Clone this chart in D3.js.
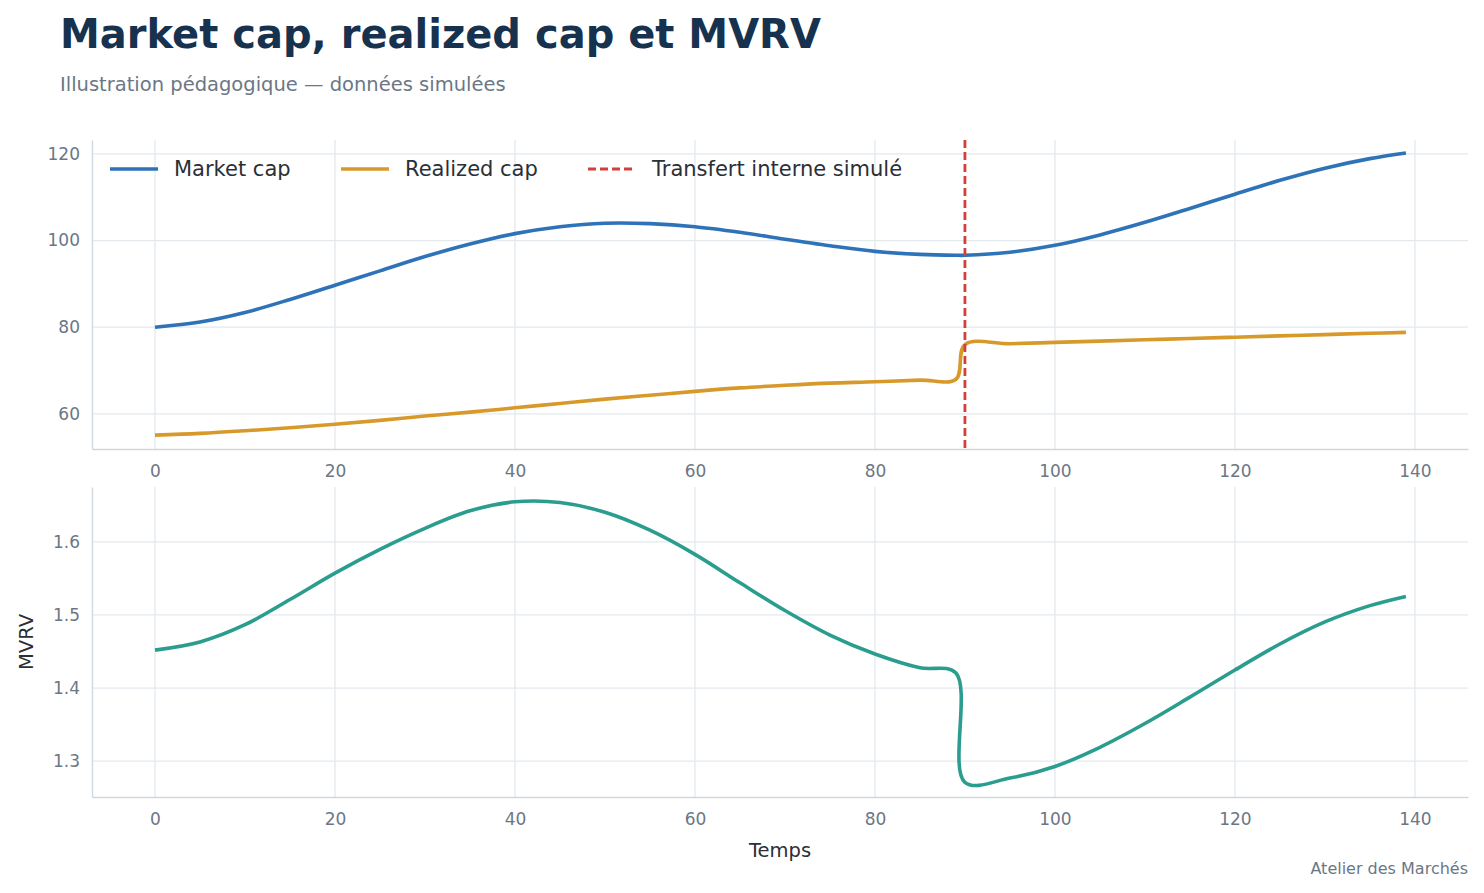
<!DOCTYPE html>
<html><head><meta charset="utf-8">
<script src="https://cdn.jsdelivr.net/npm/d3@7"></script>
<style>
body{margin:0;background:#fff;font-family:"DejaVu Sans",sans-serif;}
.tick text{fill:#6b7785;font-size:17px;font-family:"DejaVu Sans",sans-serif;}
</style></head>
<body><div id="chart"></div>
<script>
// sampled time steps
const steps = [0,5,10,15,20,25,30,35,40,45,50,55,60,65,70,75,80,85,89,90,95,100,105,110,115,120,125,130,135,139];
const marketCap = [80,81.2,83.4,86.4,89.7,93,96.3,99.2,101.6,103.2,104,103.9,103.2,101.9,100.3,98.8,97.5,96.8,96.6,96.6,97.3,98.9,101.3,104.2,107.4,110.7,113.9,116.7,118.9,120.2];
const realizedCap = [55.1,55.5,56.1,56.8,57.6,58.5,59.5,60.4,61.4,62.4,63.4,64.3,65.2,66,66.6,67.1,67.4,67.8,68,76,76.2,76.5,76.8,77.1,77.4,77.7,78,78.3,78.6,78.8];
const transferStep = 90;
const xTicks = [0,20,40,60,80,100,120,140];
const topTicks = [60,80,100,120];
const botTicks = [1.3,1.4,1.5,1.6];

const mvrv = marketCap.map((m, i) => m / realizedCap[i]);

const W = 1484, H = 893;
const svg = d3.select("#chart").append("svg").attr("width", W).attr("height", H);

svg.append("text").attr("x", 60).attr("y", 48).text("Market cap, realized cap et MVRV")
  .style("font-size", "40px").style("font-weight", "bold").attr("fill", "#17324f");
svg.append("text").attr("x", 60).attr("y", 91).text("Illustration pédagogique — données simulées")
  .style("font-size", "19.5px").attr("fill", "#6b7785");

const left = 92, right = 1468;
const x = d3.scaleLinear().domain([-7, 145.9]).range([left, right]);

function panel(top, bottom, yDomain, ticks, fmt) {
  const y = d3.scaleLinear().domain(yDomain).range([bottom, top]);
  const g = svg.append("g");
  g.selectAll(".vg").data(xTicks).join("line")
    .attr("x1", d => x(d)).attr("x2", d => x(d)).attr("y1", top).attr("y2", bottom)
    .attr("stroke", "#e4e9ee").attr("stroke-width", 1.3);
  g.selectAll(".hg").data(ticks).join("line")
    .attr("x1", left).attr("x2", right).attr("y1", d => y(d)).attr("y2", d => y(d))
    .attr("stroke", "#e4e9ee").attr("stroke-width", 1.3);
  const ax = g.append("g").attr("transform", `translate(0,${bottom})`)
    .call(d3.axisBottom(x).tickValues(xTicks).tickSize(0).tickPadding(16));
  const ay = g.append("g").attr("transform", `translate(${left},0)`)
    .call(d3.axisLeft(y).tickValues(ticks).tickFormat(fmt).tickSize(0).tickPadding(12));
  [ax, ay].forEach(a => a.select(".domain").attr("stroke", "#cfd8e0").attr("stroke-width", 1.4));
  return y;
}

const y1 = panel(140, 449, [51.9, 123.2], topTicks, d3.format("d"));
const y2 = panel(487, 797, [1.251, 1.675], botTicks, d3.format(".1f"));

const line = (ys, vals) => d3.line().x((d, i) => x(steps[i])).y((d, i) => ys(vals[i])).curve(d3.curveCatmullRom.alpha(0.5));

svg.append("path").attr("d", line(y1, marketCap)(steps)).attr("fill", "none").attr("stroke", "#2e73b8").attr("stroke-width", 3.6);
svg.append("path").attr("d", line(y1, realizedCap)(steps)).attr("fill", "none").attr("stroke", "#d8992b").attr("stroke-width", 3.6);
svg.append("line").attr("x1", x(transferStep)).attr("x2", x(transferStep)).attr("y1", 140).attr("y2", 449)
  .attr("stroke", "#d1403a").attr("stroke-width", 2.8).attr("stroke-dasharray", "8,4");
svg.append("path").attr("d", line(y2, mvrv)(steps)).attr("fill", "none").attr("stroke", "#2a9d8f").attr("stroke-width", 3.6);

const legend = [
  {label: "Market cap", color: "#2e73b8", x: 110, dash: null},
  {label: "Realized cap", color: "#d8992b", x: 341, dash: null},
  {label: "Transfert interne simulé", color: "#d1403a", x: 588, dash: "8,4"}
];
legend.forEach(l => {
  svg.append("line").attr("x1", l.x).attr("x2", l.x + 48).attr("y1", 169).attr("y2", 169)
    .attr("stroke", l.color).attr("stroke-width", l.dash ? 2.8 : 3.6).attr("stroke-dasharray", l.dash);
  svg.append("text").attr("x", l.x + 64).attr("y", 176).text(l.label).style("font-size", "21px").attr("fill", "#2b2f36");
});

svg.append("text").attr("transform", "translate(33,642) rotate(-90)").attr("text-anchor", "middle")
  .text("MVRV").style("font-size", "19.5px").attr("fill", "#2b2f36");
svg.append("text").attr("x", 780).attr("y", 857).attr("text-anchor", "middle")
  .text("Temps").style("font-size", "19.5px").attr("fill", "#2b2f36");
svg.append("text").attr("x", 1468).attr("y", 874).attr("text-anchor", "end")
  .text("Atelier des Marchés").style("font-size", "16px").attr("fill", "#6b7785");
</script></body></html>
